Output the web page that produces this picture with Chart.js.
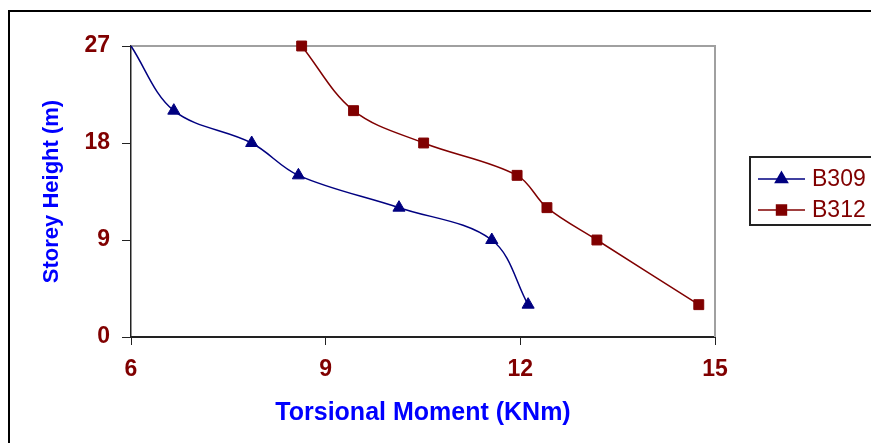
<!DOCTYPE html>
<html>
<head>
<meta charset="utf-8">
<title>Torsional Moment</title>
<script src="https://cdn.jsdelivr.net/npm/chart.js@4.4.1/dist/chart.umd.min.js"></script>
<style>
body{margin:0;background:#fff;overflow:hidden;}
</style>
</head>
<body>
<canvas id="myChart" width="871" height="443"></canvas>
<script>
// storey heights (m) for every reading
const storeyHeights = [3, 9, 12, 15, 18, 21, 27];
// torsional moment (KNm)
const b309Moment = [12.12, 11.56, 10.13, 8.58, 7.86, 6.66, 6.0];
const b312Moment = [14.75, 13.18, 12.41, 11.95, 10.51, 9.43, 8.63];
const seriesNames = ["B309", "B312"];
const xTicks = [6, 9, 12, 15];
const yTicks = [0, 9, 18, 27];

const darkRed = "#800000";
const navy = "#000080";
const fontFam = "'Liberation Sans', Arial, sans-serif";

function toPoints(moments){
    let pts = [];
    moments.forEach(function (m, i) {
        pts.push({x: m, y: storeyHeights[i]});
    });
    return pts;
}

// outer frame of the picture
const framePlugin = {
    id: "frame",
    beforeDraw(chart){
        let ctx = chart.ctx;
        ctx.save();
        ctx.strokeStyle = "#000";
        ctx.lineWidth = 2;
        ctx.strokeRect(9, 11, 900, 500);
        ctx.restore();
    }
};

// top and right border of the plot, plus the excel style legend
const boxPlugin = {
    id: "legendBox",
    beforeDatasetsDraw(chart){
        let ctx = chart.ctx;
        let area = chart.chartArea;
        ctx.save();
        ctx.strokeStyle = "#a0a0a0";
        ctx.lineWidth = 2;
        ctx.beginPath();
        ctx.moveTo(area.left, area.top);
        ctx.lineTo(area.right, area.top);
        ctx.lineTo(area.right, area.bottom);
        ctx.stroke();
        ctx.restore();
    },
    afterDraw(chart){
        let ctx = chart.ctx;
        ctx.save();
        // legend
        ctx.strokeStyle = "#222";
        ctx.lineWidth = 2;
        ctx.strokeRect(750, 157, 140, 68);
        const rows = [179, 210];
        chart.data.datasets.forEach(function (ds, i) {
            let y = rows[i];
            ctx.strokeStyle = ds.borderColor;
            ctx.lineWidth = 1.5;
            ctx.beginPath();
            ctx.moveTo(758, y);
            ctx.lineTo(805, y);
            ctx.stroke();
            ctx.fillStyle = ds.backgroundColor;
            Chart.helpers.drawPoint(ctx, {
                pointStyle: ds.pointStyle,
                radius: 7,
                borderWidth: 1,
                rotation: 0
            }, 781.5, y);
            ctx.fillStyle = darkRed;
            ctx.font = "23px " + fontFam;
            ctx.textBaseline = "middle";
            ctx.textAlign = "left";
            ctx.fillText(ds.label, 812, y + 1);
        });
        ctx.restore();
    }
};

const ctx = document.getElementById("myChart").getContext("2d");

const myChart = new Chart(ctx, {
    type: "line",
    data: {
        datasets: [
            {
                label: seriesNames[0],
                data: toPoints(b309Moment),
                borderColor: navy,
                backgroundColor: navy,
                borderWidth: 1.5,
                pointStyle: "triangle",
                pointRadius: [7, 7, 7, 7, 7, 7, 0],
                pointBorderWidth: 1,
                tension: 0.35,
                clip: false
            },
            {
                label: seriesNames[1],
                data: toPoints(b312Moment),
                borderColor: darkRed,
                backgroundColor: darkRed,
                borderWidth: 1.5,
                pointStyle: "rect",
                pointRadius: 7,
                pointBorderWidth: 1,
                tension: 0.35,
                clip: false
            }
        ]
    },
    options: {
        responsive: false,
        animation: false,
        layout: {
            padding: {left: 0, top: 46, right: 156, bottom: 0}
        },
        plugins: {
            legend: {display: false},
            tooltip: {enabled: false}
        },
        scales: {
            x: {
                type: "linear",
                min: 6,
                max: 15,
                afterBuildTicks: function (scale) {
                    scale.ticks = xTicks.map(v => ({value: v}));
                },
                afterFit: function (scale) {
                    scale.height = 106;
                },
                ticks: {
                    color: darkRed,
                    padding: 11,
                    font: {family: fontFam, size: 23, weight: "bold"}
                },
                grid: {
                    color: "rgba(0,0,0,0)",
                    tickColor: "#222",
                    tickLength: 8
                },
                border: {display: true, color: "#222", width: 2},
                title: {
                    display: true,
                    text: "Torsional Moment (KNm)",
                    color: "#0000ff",
                    padding: {top: 0, bottom: 15},
                    font: {family: fontFam, size: 25, weight: "bold"}
                }
            },
            y: {
                type: "linear",
                min: 0,
                max: 27,
                afterBuildTicks: function (scale) {
                    scale.ticks = yTicks.map(v => ({value: v}));
                },
                afterFit: function (scale) {
                    scale.width = 131;
                },
                ticks: {
                    color: darkRed,
                    padding: 12,
                    font: {family: fontFam, size: 23, weight: "bold"}
                },
                grid: {
                    color: "rgba(0,0,0,0)",
                    tickColor: "#222",
                    tickLength: 9
                },
                border: {display: true, color: "#222", width: 1.5},
                title: {
                    display: true,
                    text: "Storey Height (m)",
                    color: "#0000ff",
                    padding: {top: 39, bottom: 0},
                    font: {family: fontFam, size: 22, weight: "bold"}
                }
            }
        }
    },
    plugins: [framePlugin, boxPlugin]
});
</script>
</body>
</html>
